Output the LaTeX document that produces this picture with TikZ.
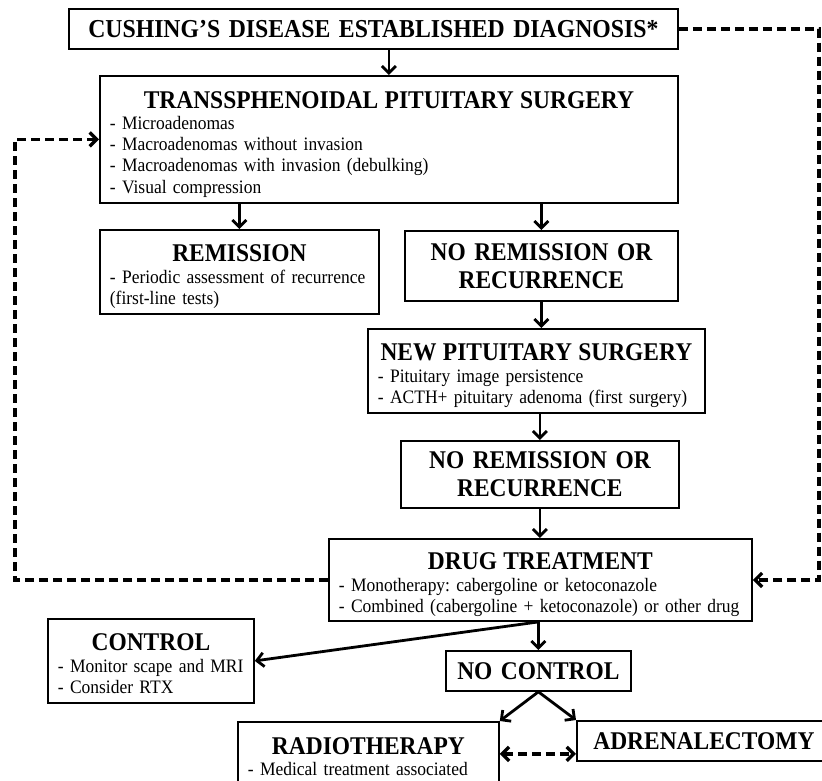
\documentclass[tikz,border=0pt]{standalone}
\usepackage{fontspec}
\setmainfont{Liberation Serif}[FakeStretch=0.92]
\usetikzlibrary{arrows.meta}

\newcommand\bodyfont{\fontsize{19}{21.3}\selectfont\frenchspacing}
\newcommand\ttlfont{\fontsize{25.5}{28}\selectfont\bfseries}
\newcommand\ttl[1]{{\centering\ttlfont\rule{0pt}{31pt}#1\par}}
\newcommand\lastln{\rule[-8.5pt]{0pt}{8.5pt}}

\tikzset{
  box/.style={draw, line width=1.8pt, anchor=north west, inner xsep=10pt,
    inner ysep=0pt, align=left, font=\bodyfont},
  tbox/.style={box, align=center, font=\ttlfont},
  tip/.style={-{Straight Barb[length=7pt,width=14pt]}},
  arr/.style={line width=2.8pt, tip},
  dsh/.style={line width=3.3pt, dash pattern=on 9pt off 5pt}
}

\begin{document}
\begin{tikzpicture}[x=1pt, y=-1pt]
  \useasboundingbox (0,0) rectangle (822,781);

  % Boxes of the flow
  \node[tbox, text width=589pt, minimum height=40pt, font=\fontsize{25.8}{28}\selectfont\bfseries] (diag) at (68,8)
    {CUSHING’S DISEASE ESTABLISHED DIAGNOSIS*};
  \node[box, text width=558pt, minimum height=127pt] (tss) at (99,75)
    {\ttl{TRANSSPHENOIDAL PITUITARY SURGERY}
     - Microadenomas\\
     - Macroadenomas without invasion\\
     - Macroadenomas with invasion (debulking)\\
     - Visual compression\lastln};
  \node[box, text width=259pt, minimum height=84pt] (rem) at (99,229)
    {\ttl{REMISSION}
     - Periodic assessment of recurrence\\
     (first-line tests)\lastln};
  \node[tbox, text width=253pt, minimum height=70pt] (norem) at (404,230)
    {NO REMISSION OR\\RECURRENCE};
  \node[box, text width=317pt, minimum height=84pt] (newsurg) at (367,328)
    {\ttl{NEW PITUITARY SURGERY}
     - Pituitary image persistence\\
     - ACTH+ pituitary adenoma (first surgery)\lastln};
  \node[tbox, text width=258pt, minimum height=67pt] (norem2) at (400,440)
    {NO REMISSION OR\\RECURRENCE};
  \node[box, text width=403pt, minimum height=82pt] (drug) at (328,538)
    {\ttl{DRUG TREATMENT}
     - Monotherapy: cabergoline or ketoconazole\\
     - Combined (cabergoline + ketoconazole) or other drug\lastln};
  \node[box, text width=186pt, minimum height=84pt] (ctrl) at (47,618)
    {\ttl{CONTROL}
     - Monitor scape and MRI\\
     - Consider RTX\lastln};
  \node[tbox, text width=165pt, minimum height=40pt] (noctrl) at (445,650)
    {NO CONTROL};
  \node[box, text width=241pt, minimum height=64pt] (radio) at (237,721)
    {\ttl{RADIOTHERAPY}
     - Medical treatment associated\lastln};
  \node[tbox, text width=234pt, minimum height=40pt] (adren) at (576,720)
    {ADRENALECTOMY};

  % Solid arrows
  \draw[arr] (diag.south -| tss.north) -- (tss.north);
  \draw[arr] (tss.south -| rem.north) -- (rem.north);
  \draw[arr] (tss.south -| norem.north) -- (norem.north);
  \draw[arr] (norem.south) -- (norem.south |- newsurg.north);
  \draw[arr] (norem2.north |- newsurg.south) -- (norem2.north);
  \draw[arr] (norem2.south) -- (norem2.south |- drug.north);
  \draw[arr] (drug.south -| noctrl.north) -- (noctrl.north);
  \draw[arr] (drug.south -| noctrl.north) -- (ctrl.east);
  \draw[arr] (noctrl.south) -- (radio.north east);
  \draw[arr] (noctrl.south) -- (adren.north west);

  % Dashed loops
  \coordinate (rgt) at (819,0);
  \coordinate (lft) at (15,0);
  \draw[dsh, tip] (diag.east) -| (rgt |- drug.east) -- (drug.east);
  \draw[dsh, tip] (drug.west) -| (lft |- tss.west) -- (tss.west);
  \draw[dsh, {Straight Barb[length=7pt,width=14pt]}-{Straight Barb[length=7pt,width=14pt]}]
    (radio.east) -- (radio.east -| adren.west);
\end{tikzpicture}
\end{document}
